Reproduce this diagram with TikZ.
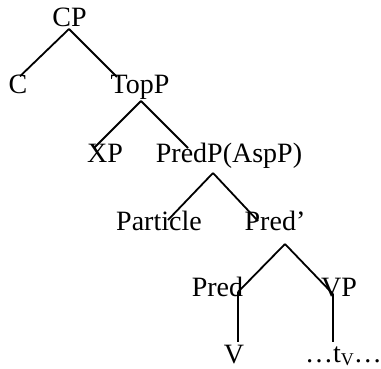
\documentclass[tikz,border=0pt]{standalone}
\usepackage{fontspec}
\setmainfont{Liberation Serif}
\tikzset{
    lab/.style={anchor=base,inner sep=0pt,font=\fontsize{28}{34}\selectfont},
    branch/.style={line width=1.8pt},
  }

\begin{document}
\begin{tikzpicture}[x=1pt,y=-1pt]
	\useasboundingbox (0,0) rectangle (381,369);
	%LABELS
	\node[lab] (CP) at (69.5,27) {CP};
	\node[lab] (C) at (18,94) {C};
	\node[lab] (TopP) at (140,94) {TopP};
	\node[lab] (XP) at (105,163) {XP};
	\node[lab] (PredP) at (229,163) {PredP(AspP)};
	\node[lab] (Particle) at (159,230) {Particle};
	\node[lab] (PredB) at (275,230) {Pred’};
	\node[lab] (Pred) at (217.5,297) {Pred};
	\node[lab] (VP) at (339,297) {VP};
	\node[lab] (V) at (234,363) {V};
	\node[lab,anchor=base west] (tV) at (305,362) {…t\raisebox{-3pt}{\fontsize{18}{20}\selectfont V}…};
	%CP
	\coordinate (cp) at (69,29);
	\draw[branch] (C.north) ++(2,1) coordinate (c) (cp) -- (c);
	\draw[branch] (cp) -- (117,77) coordinate (topp-in);
	%TopP
	\coordinate (topp) at (141,101);
	\draw[branch] (topp) -- (94,148) coordinate (xp-in);
	\draw[branch] (topp) -- (188,148) coordinate (predp-in);
	%PredP
	\coordinate (predp) at (213,173);
	\draw[branch] (predp) -- (168,220) coordinate (part-in);
	\draw[branch] (predp) -- (258,221) coordinate (predb-in);
	%Pred'
	\coordinate (predb) at (285,244);
	\draw[branch] (predb) -- (238,292) coordinate (pred-in);
	\draw[branch] (predb) -- (333,294) coordinate (vp-in);
	%V and trace
	\draw[branch] (pred-in) -- (238,342);
	\draw[branch] (vp-in) -- (333,342);
\end{tikzpicture}
\end{document}
